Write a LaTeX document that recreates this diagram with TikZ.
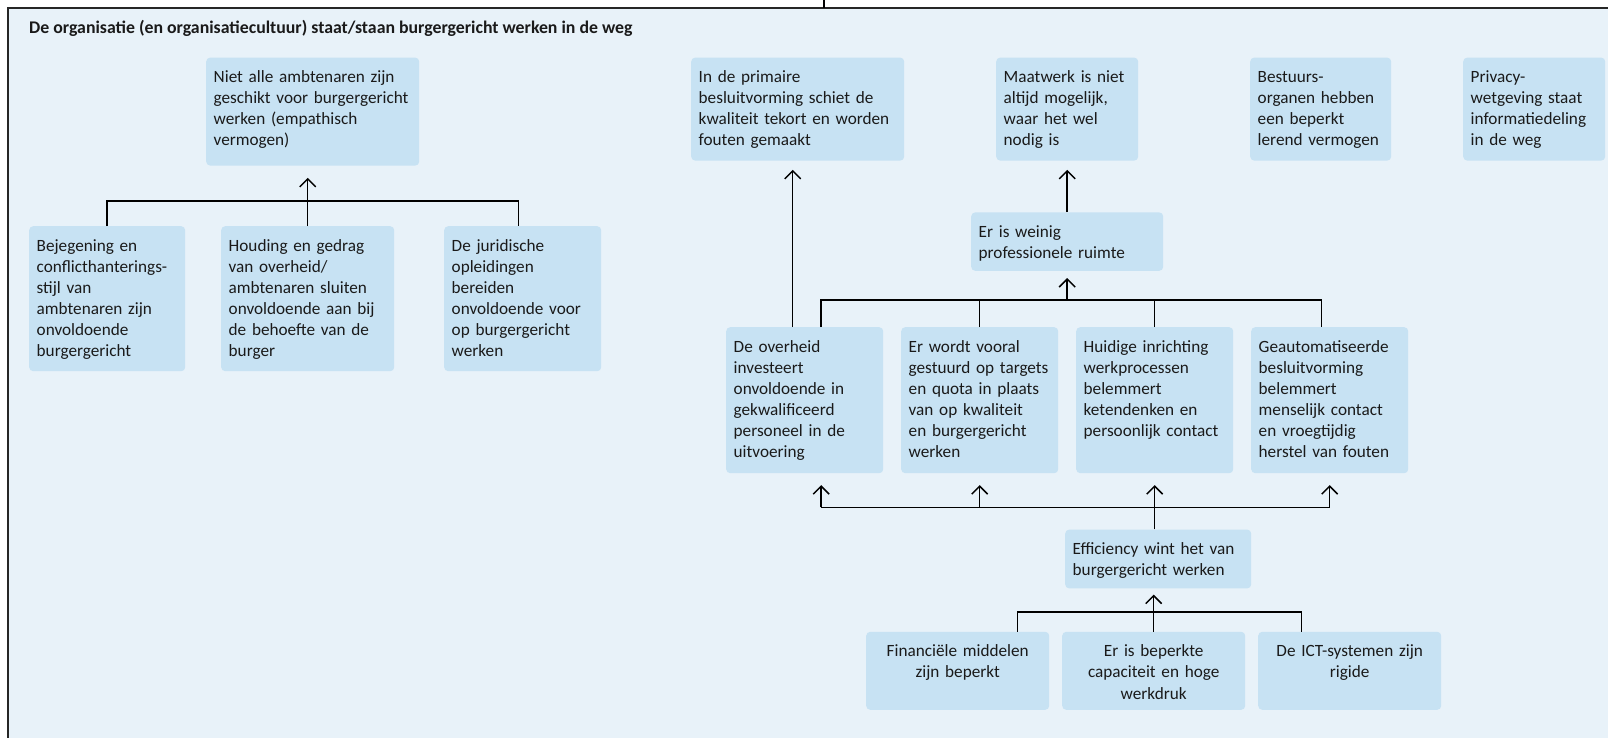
\documentclass[tikz,border=0pt]{standalone}
\usepackage{fontspec}
\setmainfont{Carlito}
\usetikzlibrary{arrows.meta}

\definecolor{achtergrond}{RGB}{232,242,249}
\definecolor{vakblauw}{RGB}{199,226,243}
\definecolor{tekst}{RGB}{26,26,26}
\hyphenpenalty=10000
\exhyphenpenalty=10000

\begin{document}
\begin{tikzpicture}[x=1pt, y=1pt]
        \tikzstyle{vak}=[anchor=north west, fill=vakblauw, rounded corners=4pt, inner xsep=7.5pt, inner ysep=0pt, text height=25pt, align=left, text=tekst, font=\fontsize{17.2}{21.1}\selectfont]
        \tikzstyle{titel}=[anchor=base west, inner sep=0pt, text=tekst, font=\bfseries\fontsize{17.8}{21.1}\selectfont]
        \tikzstyle{lijn}=[line width=1.5pt, draw=black]
        \tikzstyle{pijl}=[lijn, -{Straight Barb[length=8pt, width=16pt]}]
        \tikzstyle{rand}=[line width=2pt, draw=black!85]
        % \draw (0, 0) grid[step=100] (1608, -738);
        \useasboundingbox (0, 0) rectangle (1608, -738);
        \fill[achtergrond] (8, -8) rectangle (1608, -738);
        \draw[rand] (8, -738) -- (8, -8) -- (1608, -8);
        \coordinate (boven-1) at (824, 0);
        \coordinate (boven-2) at (824, -8);
        \draw[lijn] (boven-1) -- (boven-2);

        \node[titel] (titel) at (29, -34) {De organisatie (en organisatiecultuur) staat/staan burgergericht werken in de weg};

        % links
        \node[vak, text width=198pt, text depth=83pt] (niet-alle) at (206, -57.4) {Niet alle ambtenaren zijn\\geschikt voor burgergericht\\werken (empathisch\\vermogen)};
        \node[vak, text width=141pt, text depth=120pt] (bejegening) at (29, -226) {Bejegening en\\conflicthanterings-\\stijl van\\ambtenaren zijn\\onvoldoende\\burgergericht};
        \node[vak, text width=158pt, text depth=120pt] (houding) at (221, -226) {Houding en gedrag\\van overheid/\\ambtenaren sluiten\\onvoldoende aan bij\\de behoefte van de\\burger};
        \node[vak, text width=142pt, text depth=120pt] (juridisch) at (444, -226) {De juridische\\opleidingen\\bereiden\\onvoldoende voor\\op burgergericht\\werken};

        % bovenste rij
        \node[vak, text width=198pt, text depth=78pt] (primaire) at (691, -57.4) {In de primaire\\besluitvorming schiet de\\kwaliteit tekort en worden\\fouten gemaakt};
        \node[vak, text width=127pt, text depth=78pt] (maatwerk) at (996, -57.4) {Maatwerk is niet\\altijd mogelijk,\\waar het wel\\nodig is};
        \node[vak, text width=126pt, text depth=78pt] (bestuur) at (1250, -57.4) {Bestuurs-\\organen hebben\\een beperkt\\lerend vermogen};
        \node[vak, text width=127pt, text depth=78pt] (privacy) at (1463, -57.4) {Privacy-\\wetgeving staat\\informatiedeling\\in de weg};

        \node[vak, text width=177pt, text depth=33.4pt] (weinig-ruimte) at (971, -212.2) {Er is weinig\\professionele ruimte};

        % middelste rij
        \node[vak, text width=142pt, text depth=121pt] (overheid) at (726, -327) {De overheid\\investeert\\onvoldoende in\\gekwalificeerd\\personeel in de\\uitvoering};
        \node[vak, text width=142pt, text depth=121pt] (targets) at (901, -327) {Er wordt vooral\\gestuurd op targets\\en quota in plaats\\van op kwaliteit\\en burgergericht\\werken};
        \node[vak, text width=142pt, text depth=121pt] (inrichting) at (1076, -327) {Huidige inrichting\\werkprocessen\\belemmert\\ketendenken en\\persoonlijk contact};
        \node[vak, text width=142pt, text depth=121pt] (automatisering) at (1251, -327) {Geautomatiseerde\\besluitvorming\\belemmert\\menselijk contact\\en vroegtijdig\\herstel van fouten};

        \node[vak, text width=171pt, text depth=33.8pt] (efficiency) at (1065, -529.4) {Efficiency wint het van\\burgergericht werken};

        % onderste rij
        \node[vak, align=center, text width=168pt, text depth=53pt] (middelen) at (866, -631.6) {Financiële middelen\\zijn beperkt};
        \node[vak, align=center, text width=168pt, text depth=53pt] (capaciteit) at (1062, -631.6) {Er is beperkte\\capaciteit en hoge\\werkdruk};
        \node[vak, align=center, text width=168pt, text depth=53pt] (ict) at (1258, -631.6) {De ICT-systemen zijn\\rigide};

        \coordinate (bus-boven) at (0, -300.2);
        \coordinate (bus-onder) at (0, -507.3);

        \draw[lijn] (bejegening.north) -- ++(0, 25) -| ([xshift=-4pt]juridisch.north);
        \draw[pijl, shorten >=12pt] (houding.north) -- (houding.north |- niet-alle.south);

        \draw[pijl, shorten >=9pt] (weinig-ruimte.north) -- (maatwerk.south);
        \draw[pijl, shorten >=9pt] ([xshift=-12pt]overheid.north) -- ([xshift=-12pt]overheid.north |- primaire.south);
        \draw[lijn] ([xshift=16.5pt]overheid.north) -- ([xshift=16.5pt]overheid.north |- bus-boven) -| ([xshift=-8pt]automatisering.north);
        \draw[lijn] (targets.north) -- (targets.north |- bus-boven);
        \draw[lijn] (inrichting.north) -- (inrichting.north |- bus-boven);
        \draw[pijl, shorten >=7pt] (weinig-ruimte.south |- bus-boven) -- (weinig-ruimte.south);

        \draw[lijn] ([xshift=16.5pt]overheid.south |- bus-onder) -- (automatisering.south |- bus-onder);
        \draw[pijl, shorten >=11.7pt] ([xshift=16.5pt]overheid.south |- bus-onder) -- ([xshift=16.5pt]overheid.south);
        \draw[pijl, shorten >=11.7pt] (targets.south |- bus-onder) -- (targets.south);
        \draw[pijl, shorten >=11.7pt] (efficiency.north -| inrichting.south) -- (inrichting.south);
        \draw[pijl, shorten >=11.7pt] (automatisering.south |- bus-onder) -- (automatisering.south);

        \draw[lijn] ([xshift=60pt]middelen.north) -- ++(0, 19.8) -| ([xshift=-48pt]ict.north);
        \draw[pijl, shorten >=6pt] (capaciteit.north) -- (capaciteit.north |- efficiency.south);

    \end{tikzpicture}
\end{document}
